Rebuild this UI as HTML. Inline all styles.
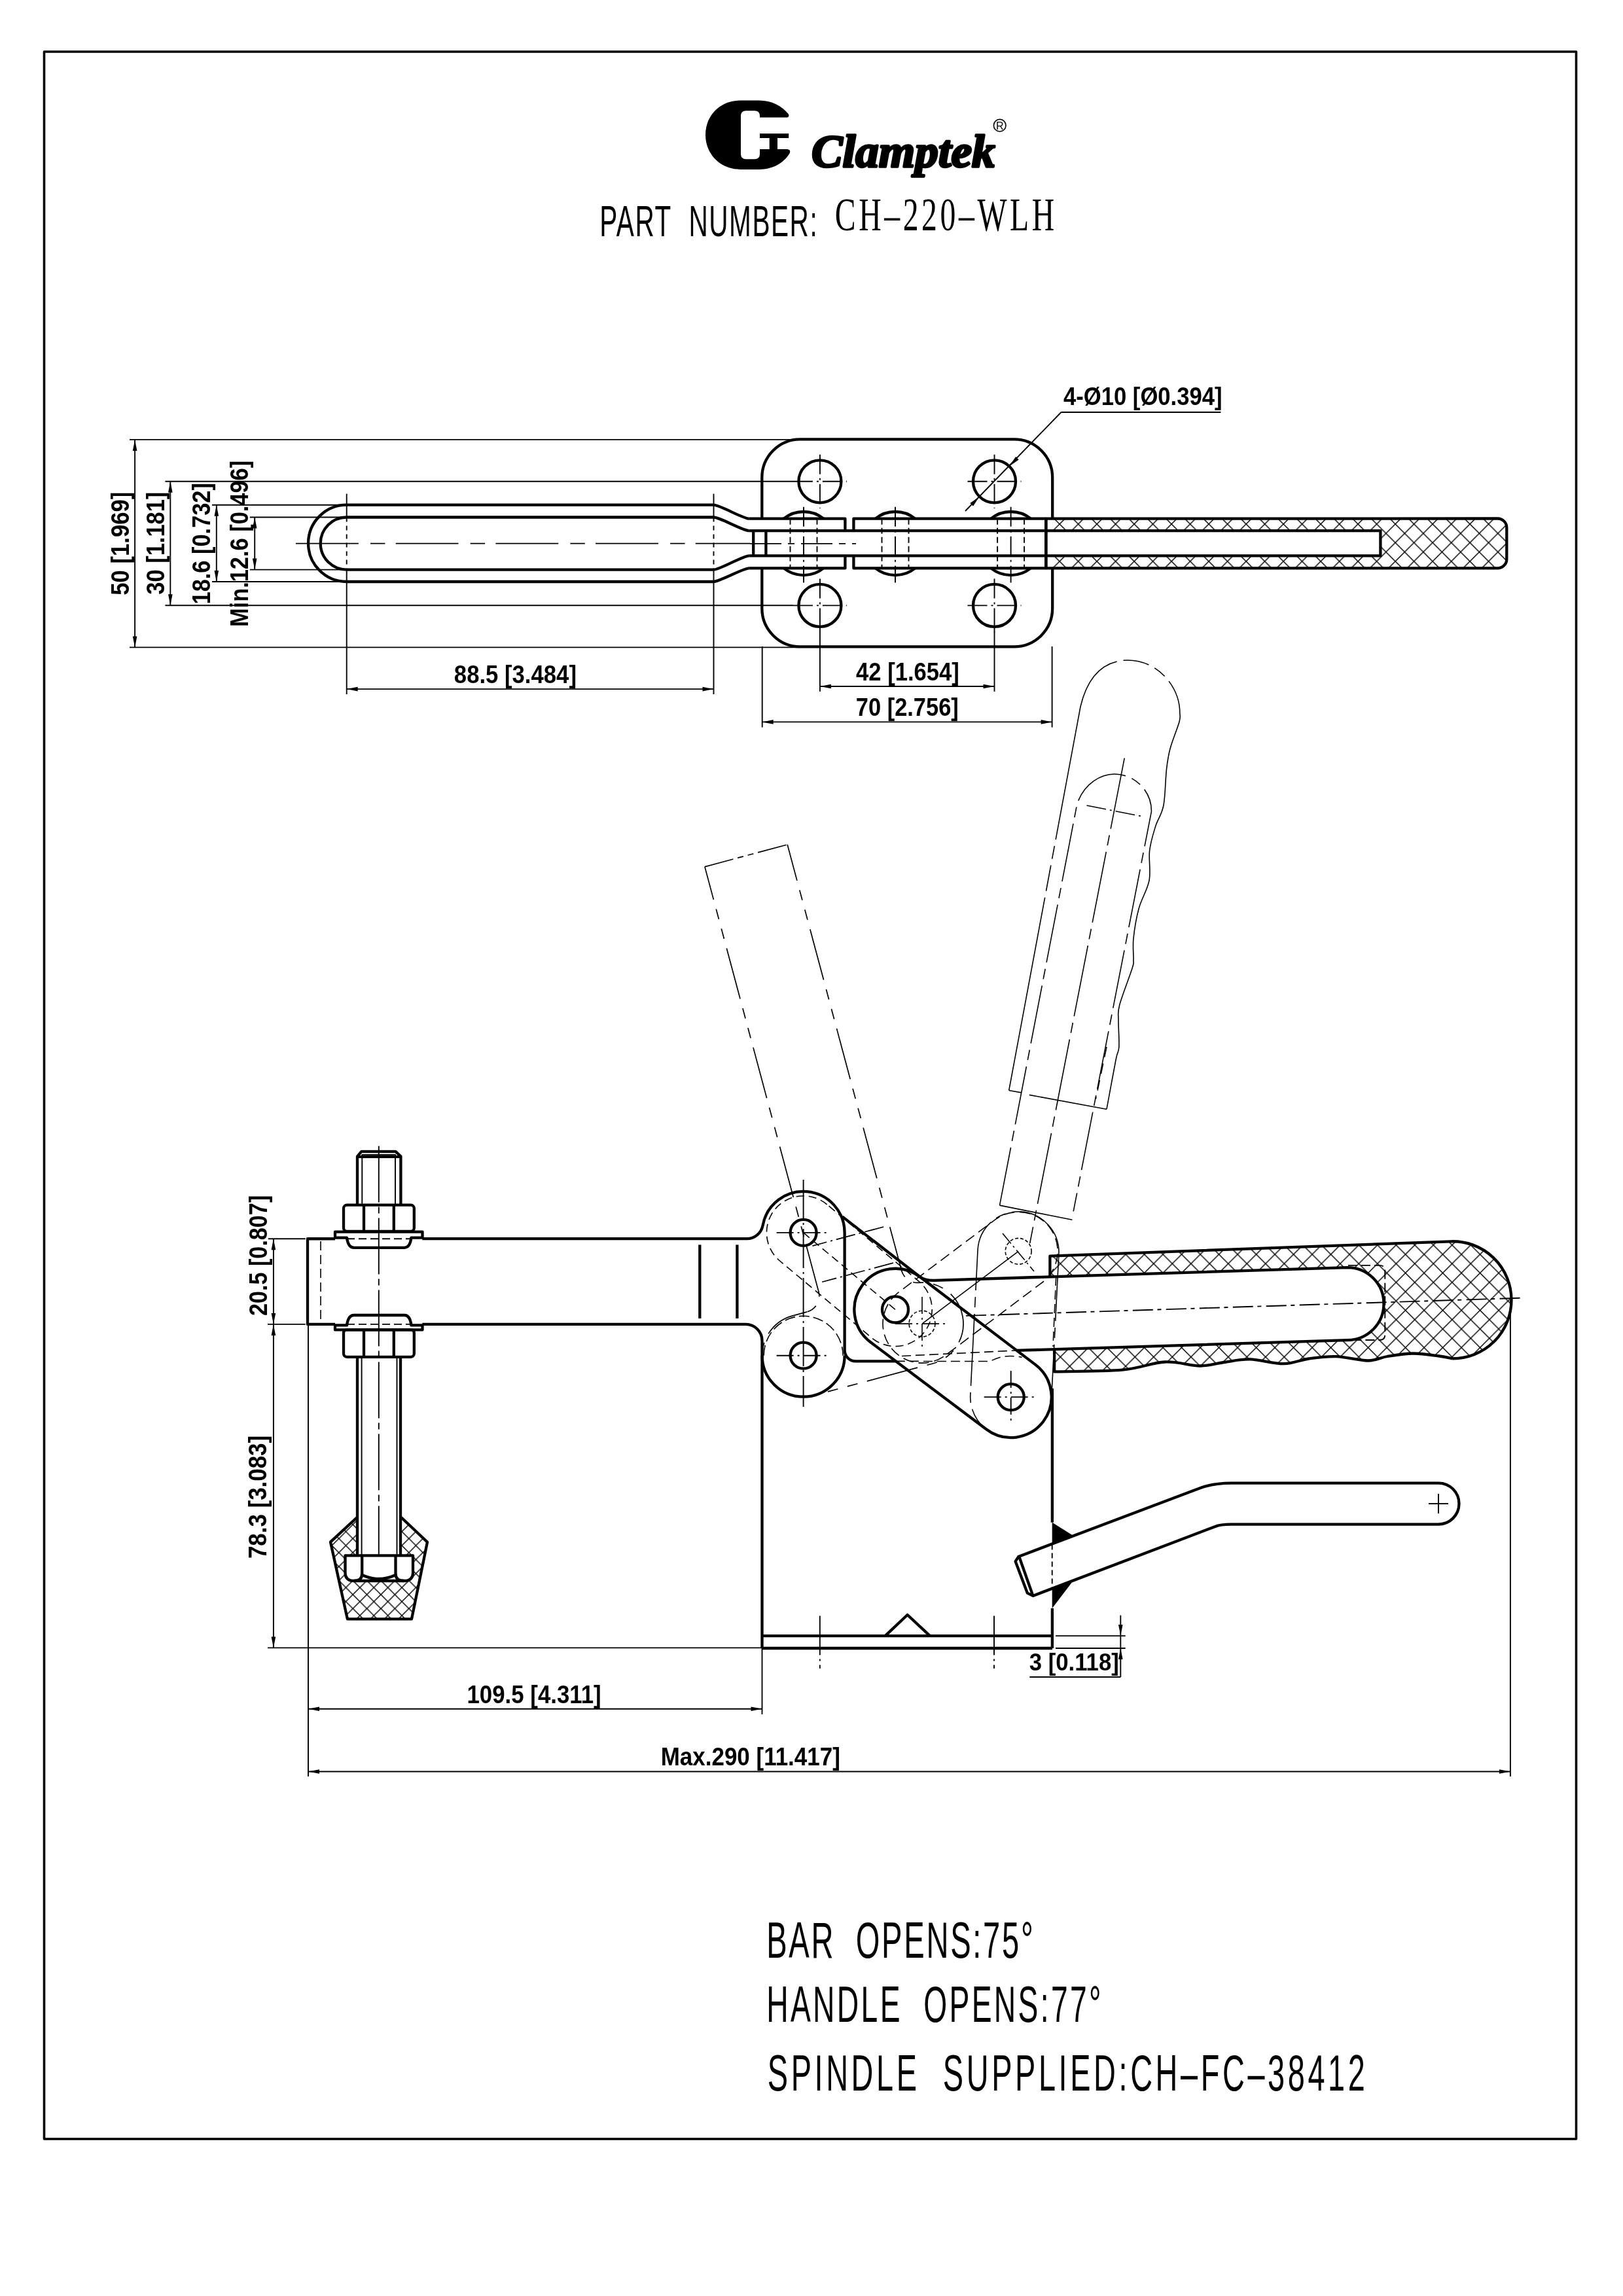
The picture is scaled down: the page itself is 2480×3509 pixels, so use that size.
<!DOCTYPE html><html><head><meta charset="utf-8"><style>html,body{margin:0;padding:0;background:#fff;overflow:hidden}svg{display:block}</style></head><body>
<svg width="2480" height="3509" viewBox="0 0 2480 3509">
<rect width="2480" height="3509" fill="#fff"/>
<g stroke="#000" stroke-linecap="butt" stroke-linejoin="round" fill="none" style="will-change:transform">
<rect x="67.5" y="79" width="2341" height="3190" fill="none" stroke-width="3.6"/>
<path d="M1131,153.4 L1160,153.4 C1179,153.4 1195,162 1204.5,174 Q1207,178 1203,179.6 L1161,179.6 L1161,228 L1203,228 Q1209,229 1206.5,234.5 C1197,250 1180,258.9 1160,258.9 L1131,258.9 C1101,258.9 1078,236 1078,206 C1078,176 1101,153.4 1131,153.4 Z" fill="#000" stroke="none"/>
<path d="M1140,169.3 L1153,169.3 Q1161,169.3 1161,177.3 L1161,235.2 Q1161,243.2 1153,243.2 L1140,243.2 Q1132,243.2 1132,235.2 L1132,177.3 Q1132,169.3 1140,169.3 Z" fill="#fff" stroke="none"/>
<rect x="1161" y="204.1" width="44.2" height="6.9" fill="#000" stroke="none"/>
<rect x="1175.7" y="211" width="12.3" height="17" fill="#000" stroke="none"/>
<text transform="translate(1240.01,255.2) scale(1.0154,1)" font-family='"Liberation Serif", serif' font-weight="bold" font-style="italic" font-size="70.07" stroke="#000" stroke-width="3.4" stroke-linejoin="round" fill="#000">Clamptek</text>
<circle cx="1527.7" cy="191.7" r="9.3" stroke-width="1.6" fill="none"/>
<text x="1527.7" y="198" font-family='"Liberation Sans", sans-serif' font-size="16" text-anchor="middle" stroke="none" fill="#000">R</text>
<text transform="translate(916.26,361.4) scale(0.6000,1)" font-family='"Liberation Sans", sans-serif' font-weight="normal" font-style="normal" font-size="67.54" letter-spacing="2.604" stroke="none" fill="#000">PART  NUMBER:</text>
<text transform="translate(1275.79,351.7) scale(0.6600,1)" font-family='"Liberation Serif", serif' font-weight="normal" font-style="normal" font-size="72.21" letter-spacing="6.998" stroke="none" fill="#000">CH–220–WLH</text>
<text transform="translate(1171.13,2992.3) scale(0.6000,1)" font-family='"Liberation Sans", sans-serif' font-weight="normal" font-style="normal" font-size="78.55" letter-spacing="4.517" stroke="none" fill="#000">BAR  OPENS:75°</text>
<text transform="translate(1171.2,3090.2) scale(0.6000,1)" font-family='"Liberation Sans", sans-serif' font-weight="normal" font-style="normal" font-size="77.10" letter-spacing="5.559" stroke="none" fill="#000">HANDLE  OPENS:77°</text>
<text transform="translate(1172.79,3195.3) scale(0.6000,1)" font-family='"Liberation Sans", sans-serif' font-weight="normal" font-style="normal" font-size="78.12" letter-spacing="7.680" stroke="none" fill="#000">SPINDLE  SUPPLIED:CH–FC–38412</text>
<line x1="198" y1="671.9" x2="1222" y2="671.9" stroke-width="1.9"/>
<line x1="198" y1="989.4" x2="1222" y2="989.4" stroke-width="1.9"/>
<line x1="252.4" y1="735.8" x2="1212" y2="735.8" stroke-width="1.9"/>
<line x1="252.4" y1="925.3" x2="1212" y2="925.3" stroke-width="1.9"/>
<line x1="324" y1="771.7" x2="529.7" y2="771.7" stroke-width="1.9"/>
<line x1="324" y1="889" x2="529.7" y2="889" stroke-width="1.9"/>
<line x1="381.8" y1="790.5" x2="529.7" y2="790.5" stroke-width="1.9"/>
<line x1="381.8" y1="870.6" x2="529.7" y2="870.6" stroke-width="1.9"/>
<line x1="206.1" y1="671.9" x2="206.1" y2="989.4" stroke-width="1.9"/>
<path d="M206.1,671.9 L209.4,688.9 L202.8,688.9 Z" fill="#000" stroke="none"/>
<path d="M206.1,989.4 L202.8,972.4 L209.4,972.4 Z" fill="#000" stroke="none"/>
<line x1="260.3" y1="735.8" x2="260.3" y2="925.3" stroke-width="1.9"/>
<path d="M260.3,735.8 L263.6,752.8 L257,752.8 Z" fill="#000" stroke="none"/>
<path d="M260.3,925.3 L257,908.3 L263.6,908.3 Z" fill="#000" stroke="none"/>
<line x1="330.8" y1="771.7" x2="330.8" y2="889" stroke-width="1.9"/>
<path d="M330.8,771.7 L334.1,788.7 L327.5,788.7 Z" fill="#000" stroke="none"/>
<path d="M330.8,889 L327.5,872 L334.1,872 Z" fill="#000" stroke="none"/>
<line x1="389.2" y1="790.5" x2="389.2" y2="870.6" stroke-width="1.9"/>
<path d="M389.2,790.5 L392.5,807.5 L385.9,807.5 Z" fill="#000" stroke="none"/>
<path d="M389.2,870.6 L385.9,853.6 L392.5,853.6 Z" fill="#000" stroke="none"/>
<text transform="translate(196.8,909.64) rotate(-90) scale(0.8727,1)" font-family='"Liberation Sans", sans-serif' font-weight="bold" font-style="normal" font-size="39.71" stroke="none" fill="#000">50 [1.969]</text>
<text transform="translate(250.9,908.66) rotate(-90) scale(0.8797,1)" font-family='"Liberation Sans", sans-serif' font-weight="bold" font-style="normal" font-size="39.14" stroke="none" fill="#000">30 [1.181]</text>
<text transform="translate(320.9,923.46) rotate(-90) scale(0.8821,1)" font-family='"Liberation Sans", sans-serif' font-weight="bold" font-style="normal" font-size="38.99" stroke="none" fill="#000">18.6 [0.732]</text>
<text transform="translate(379.1,958.04) rotate(-90) scale(0.8924,1)" font-family='"Liberation Sans", sans-serif' font-weight="bold" font-style="normal" font-size="38.55" stroke="none" fill="#000">Min.12.6 [0.496]</text>
<path d="M1090.5,771.7 L529.7,771.7 A58.65,58.65 0 0 0 529.7,889 L1090.5,889 C1100,889 1135,868.4 1144.8,868.4" stroke-width="4.3" fill="none"/>
<path d="M1090.5,790.5 L529.7,790.5 A40.05,40.05 0 0 0 529.7,870.6 L1090.5,870.6 C1100,870.6 1135,849.3 1144.8,849.3" stroke-width="4.3" fill="none"/>
<path d="M1090.5,771.7 C1100,771.7 1135,792.7 1144.8,792.7" stroke-width="4.3" fill="none"/>
<path d="M1090.5,790.5 C1100,790.5 1135,811.1 1144.8,811.1" stroke-width="4.3" fill="none"/>
<line x1="452" y1="830.6" x2="1146" y2="830.6" stroke-width="1.9" stroke-dasharray="95.8,18.2,22.4,16.3"/>
<line x1="1146" y1="830.9" x2="1308" y2="830.9" stroke-width="1.9" stroke-dasharray="48,10,10,10"/>
<line x1="529.7" y1="754.7" x2="529.7" y2="790.5" stroke-width="1.9"/>
<line x1="529.7" y1="790.5" x2="529.7" y2="870.6" stroke-width="1.9" stroke-dasharray="7,6"/>
<line x1="529.7" y1="870.6" x2="529.7" y2="1061" stroke-width="1.9"/>
<line x1="1090.5" y1="754.7" x2="1090.5" y2="790.5" stroke-width="1.9"/>
<line x1="1090.5" y1="790.5" x2="1090.5" y2="870.6" stroke-width="1.9" stroke-dasharray="7,6"/>
<line x1="1090.5" y1="870.6" x2="1090.5" y2="1061" stroke-width="1.9"/>
<line x1="529.7" y1="1053.1" x2="1090.5" y2="1053.1" stroke-width="1.9"/>
<path d="M529.7,1053.1 L546.7,1049.8 L546.7,1056.4 Z" fill="#000" stroke="none"/>
<path d="M1090.5,1053.1 L1073.5,1056.4 L1073.5,1049.8 Z" fill="#000" stroke="none"/>
<text transform="translate(693.86,1043.6) scale(0.8964,1)" font-family='"Liberation Sans", sans-serif' font-weight="bold" font-style="normal" font-size="38.71" stroke="none" fill="#000">88.5 [3.484]</text>
<path d="M1164.3,792.7 L1164.3,729.9 A58.5,58.5 0 0 1 1222.8,671.4 L1549.7,671.4 A58.5,58.5 0 0 1 1608.2,729.9 L1608.2,792.7" stroke-width="4.3" fill="none"/>
<path d="M1164.3,868.4 L1164.3,929.8 A58.5,58.5 0 0 0 1222.8,988.3 L1549.7,988.3 A58.5,58.5 0 0 0 1608.2,929.8 L1608.2,868.4" stroke-width="4.3" fill="none"/>
<circle cx="1252.9" cy="735.8" r="32.5" stroke-width="4.3" fill="none"/>
<line x1="1211.9" y1="735.8" x2="1293.9" y2="735.8" stroke-width="1.9" stroke-dasharray="30,6,3,6"/>
<line x1="1252.9" y1="694.8" x2="1252.9" y2="776.8" stroke-width="1.9" stroke-dasharray="30,6,3,6"/>
<circle cx="1252.9" cy="925.4" r="32.5" stroke-width="4.3" fill="none"/>
<line x1="1211.9" y1="925.4" x2="1293.9" y2="925.4" stroke-width="1.9" stroke-dasharray="30,6,3,6"/>
<line x1="1252.9" y1="884.4" x2="1252.9" y2="966.4" stroke-width="1.9" stroke-dasharray="30,6,3,6"/>
<circle cx="1519.5" cy="735.8" r="32.5" stroke-width="4.3" fill="none"/>
<line x1="1478.5" y1="735.8" x2="1560.5" y2="735.8" stroke-width="1.9" stroke-dasharray="30,6,3,6"/>
<line x1="1519.5" y1="694.8" x2="1519.5" y2="776.8" stroke-width="1.9" stroke-dasharray="30,6,3,6"/>
<circle cx="1519.5" cy="925.4" r="32.5" stroke-width="4.3" fill="none"/>
<line x1="1478.5" y1="925.4" x2="1560.5" y2="925.4" stroke-width="1.9" stroke-dasharray="30,6,3,6"/>
<line x1="1519.5" y1="884.4" x2="1519.5" y2="966.4" stroke-width="1.9" stroke-dasharray="30,6,3,6"/>
<path d="M1144.8,792.7 L1291.4,792.7 L1291.4,811.1" stroke-width="4.3" fill="none"/>
<path d="M1144.8,868.4 L1291.4,868.4 L1291.4,849.3" stroke-width="4.3" fill="none"/>
<path d="M1304.4,811.1 L1304.4,792.7 L1598.3,792.7" stroke-width="4.3" fill="none"/>
<path d="M1304.4,849.3 L1304.4,868.4 L1598.3,868.4" stroke-width="4.3" fill="none"/>
<line x1="1144.8" y1="811.1" x2="2109.4" y2="811.1" stroke-width="4.3"/>
<line x1="1144.8" y1="849.3" x2="2109.4" y2="849.3" stroke-width="4.3"/>
<line x1="1151.2" y1="811.1" x2="1151.2" y2="849.3" stroke-width="4.3"/>
<line x1="1170.4" y1="811.1" x2="1170.4" y2="849.3" stroke-width="4.3"/>
<line x1="2109.4" y1="809.3" x2="2109.4" y2="851.1" stroke-width="4.3"/>
<path d="M1197.61,792.7 A48.5,48.5 0 0 1 1258.39,792.7" stroke-width="4.3" fill="none"/>
<path d="M1197.61,868.4 A48.5,48.5 0 0 0 1258.39,868.4" stroke-width="4.3" fill="none"/>
<line x1="1207.5" y1="792.7" x2="1207.5" y2="868.4" stroke-width="1.9" stroke-dasharray="9,5"/>
<line x1="1248.5" y1="792.7" x2="1248.5" y2="868.4" stroke-width="1.9" stroke-dasharray="9,5"/>
<line x1="1228" y1="774.8" x2="1228" y2="890.6" stroke-width="1.9" stroke-dasharray="30,6,3,6"/>
<path d="M1337.61,792.7 A48.5,48.5 0 0 1 1398.39,792.7" stroke-width="4.3" fill="none"/>
<path d="M1337.61,868.4 A48.5,48.5 0 0 0 1398.39,868.4" stroke-width="4.3" fill="none"/>
<line x1="1347.5" y1="792.7" x2="1347.5" y2="868.4" stroke-width="1.9" stroke-dasharray="9,5"/>
<line x1="1388.5" y1="792.7" x2="1388.5" y2="868.4" stroke-width="1.9" stroke-dasharray="9,5"/>
<line x1="1368" y1="774.8" x2="1368" y2="890.6" stroke-width="1.9" stroke-dasharray="30,6,3,6"/>
<path d="M1514.21,792.7 A48.5,48.5 0 0 1 1574.99,792.7" stroke-width="4.3" fill="none"/>
<path d="M1514.21,868.4 A48.5,48.5 0 0 0 1574.99,868.4" stroke-width="4.3" fill="none"/>
<line x1="1524.1" y1="792.7" x2="1524.1" y2="868.4" stroke-width="1.9" stroke-dasharray="9,5"/>
<line x1="1565.1" y1="792.7" x2="1565.1" y2="868.4" stroke-width="1.9" stroke-dasharray="9,5"/>
<line x1="1544.6" y1="774.8" x2="1544.6" y2="890.6" stroke-width="1.9" stroke-dasharray="30,6,3,6"/>
<defs><pattern id="hatchT" patternUnits="userSpaceOnUse" x="2189.1" y="829.4" width="28.5" height="28.5"><path d="M-14.25,-14.25 L42.75,42.75 M42.75,-14.25 L-14.25,42.75" stroke="#000" stroke-width="1.45" fill="none"/></pattern></defs>
<defs><pattern id="hatchG" patternUnits="userSpaceOnUse" x="2161.8" y="1959.8" width="28.5" height="28.5"><path d="M-14.25,-14.25 L42.75,42.75 M42.75,-14.25 L-14.25,42.75" stroke="#000" stroke-width="1.45" fill="none"/></pattern></defs>
<defs><pattern id="hatchS" patternUnits="userSpaceOnUse" x="539.2" y="2437" width="21.4" height="21.4"><path d="M-10.7,-10.7 L32.1,32.1 M32.1,-10.7 L-10.7,32.1" stroke="#000" stroke-width="1.45" fill="none"/></pattern></defs>
<path d="M1598.3,792.6 L2288.4,792.5 A13.9,13.9 0 0 1 2302.3,806.4 L2302.3,854.4 A13.9,13.9 0 0 1 2288.4,868.3 L1598.3,868.4 Z M2109.4,811.1 L1598.3,811.1 L1598.3,849.3 L2109.4,849.3 Z" stroke-width="1.9" fill="url(#hatchT)" fill-rule="evenodd" stroke="none"/>
<path d="M1598.3,792.6 L2288.4,792.5 A13.9,13.9 0 0 1 2302.3,806.4 L2302.3,854.4 A13.9,13.9 0 0 1 2288.4,868.3 L1598.3,868.4 Z" stroke-width="4.3" fill="none"/>
<line x1="1598.3" y1="792.7" x2="1598.3" y2="868.4" stroke-width="4.3"/>
<line x1="1252.9" y1="960" x2="1252.9" y2="1056.9" stroke-width="1.9"/>
<line x1="1519.5" y1="960" x2="1519.5" y2="1056.9" stroke-width="1.9"/>
<line x1="1252.9" y1="1049" x2="1519.5" y2="1049" stroke-width="1.9"/>
<path d="M1252.9,1049 L1269.9,1045.7 L1269.9,1052.3 Z" fill="#000" stroke="none"/>
<path d="M1519.5,1049 L1502.5,1052.3 L1502.5,1045.7 Z" fill="#000" stroke="none"/>
<text transform="translate(1308.08,1039.5) scale(0.8849,1)" font-family='"Liberation Sans", sans-serif' font-weight="bold" font-style="normal" font-size="39.13" stroke="none" fill="#000">42 [1.654]</text>
<line x1="1164.7" y1="988" x2="1164.7" y2="1111.6" stroke-width="1.9"/>
<line x1="1607.6" y1="988" x2="1607.6" y2="1111.6" stroke-width="1.9"/>
<line x1="1164.7" y1="1103.4" x2="1607.6" y2="1103.4" stroke-width="1.9"/>
<path d="M1164.7,1103.4 L1181.7,1100.1 L1181.7,1106.7 Z" fill="#000" stroke="none"/>
<path d="M1607.6,1103.4 L1590.6,1106.7 L1590.6,1100.1 Z" fill="#000" stroke="none"/>
<text transform="translate(1307.82,1094) scale(0.8967,1)" font-family='"Liberation Sans", sans-serif' font-weight="bold" font-style="normal" font-size="38.41" stroke="none" fill="#000">70 [2.756]</text>
<line x1="1865.4" y1="630" x2="1621.5" y2="630" stroke-width="1.9"/>
<line x1="1621.5" y1="630" x2="1475" y2="781" stroke-width="1.9"/>
<path d="M1542.5,712.5 L1551.96,698 L1556.7,702.59 Z" fill="#000" stroke="none"/>
<path d="M1496.5,759.1 L1487.04,773.6 L1482.3,769.01 Z" fill="#000" stroke="none"/>
<text transform="translate(1624.88,619.4) scale(0.8796,1)" font-family='"Liberation Sans", sans-serif' font-weight="bold" font-style="normal" font-size="39.42" stroke="none" fill="#000">4-Ø10 [Ø0.394]</text>
<line x1="470" y1="1893.2" x2="512" y2="1893.2" stroke-width="4.3"/>
<path d="M645.3,1893.2 L1141.2,1893.2 A25.0,25.0 0 0 0 1165.62,1872.64 A63.0,63.0 0 0 1 1290.6,1883.9 L1290.6,2063.4 A17,17 0 0 0 1307.6,2080.4 L1368.88,2080.4" stroke-width="4.3" fill="none"/>
<path d="M512,1893.2 L470,1893.2 L470,2023.9 L512,2023.9 M645.3,2023.9 L1139.5,2023.9 A25,25 0 0 1 1164.5,2048.9 L1164.5,2519" stroke-width="4.3" fill="none"/>
<path d="M1164.6,2071.7 A63.0,63.0 0 0 0 1290.6,2071.7" stroke-width="4.3" fill="none"/>
<line x1="1069.3" y1="1902.4" x2="1069.3" y2="2015" stroke-width="4.3"/>
<line x1="1126.4" y1="1902.4" x2="1126.4" y2="2015" stroke-width="4.3"/>
<path d="M1405.77,1951.48 A62.6,62.6 0 0 0 1318.08,1963.63 A62.6,62.6 0 0 0 1330.23,2051.32 L1507.29,2184.54 A62.0,62.0 0 0 0 1594.14,2172.51 A62.0,62.0 0 0 0 1582.11,2085.66 Z" stroke-width="4.3" fill="none"/>
<line x1="1287.1" y1="1859.4" x2="1405.77" y2="1951.48" stroke-width="4.3"/>
<path d="M1405.77,1951.48 Q1413.4,1957.3 1428,1956.87 L2059,1937.06 A55.5,55.5 0 0 1 2059,2048.06 L1553.56,2063.93" stroke-width="4.3" fill="none"/>
<line x1="1607.9" y1="2122" x2="1607.9" y2="2326.7" stroke-width="4.3"/>
<line x1="1607.9" y1="2457.9" x2="1607.9" y2="2519" stroke-width="4.3"/>
<line x1="1164.5" y1="2500.1" x2="1607.9" y2="2500.1" stroke-width="4.3"/>
<path d="M1164.5,2519 L1607.9,2519" stroke-width="4.3" fill="none"/>
<path d="M1352.6,2500.1 L1386.6,2468 L1421,2500.1" stroke-width="4.3" fill="none"/>
<line x1="1252.8" y1="2469.5" x2="1252.8" y2="2550" stroke-width="1.9" stroke-dasharray="60,6,3,6"/>
<line x1="1519" y1="2469.5" x2="1519" y2="2550" stroke-width="1.9" stroke-dasharray="60,6,3,6"/>
<circle cx="1227.6" cy="1883.9" r="20" stroke-width="4.3" fill="none"/>
<circle cx="1227.6" cy="2071.7" r="20" stroke-width="4.3" fill="none"/>
<circle cx="1368" cy="2001.4" r="20" stroke-width="4.3" fill="none"/>
<circle cx="1544.7" cy="2135.1" r="20" stroke-width="4.3" fill="none"/>
<line x1="1186.6" y1="1883.9" x2="1268.6" y2="1883.9" stroke-width="1.9" stroke-dasharray="26,6,3,6"/>
<line x1="1186.6" y1="2071.7" x2="1268.6" y2="2071.7" stroke-width="1.9" stroke-dasharray="26,6,3,6"/>
<line x1="1503.7" y1="2135.1" x2="1585.7" y2="2135.1" stroke-width="1.9" stroke-dasharray="26,6,3,6"/>
<line x1="1227.6" y1="1803" x2="1227.6" y2="2150" stroke-width="1.9" stroke-dasharray="60,6,3,6"/>
<line x1="1544.7" y1="2095.1" x2="1544.7" y2="2175.1" stroke-width="1.9" stroke-dasharray="26,6,3,6"/>
<clipPath id="gripclip"><path d="M1604.4,1919.6 L2216.8,1897.3 A89.5,89.5 0 0 1 2309.5,1986.8 A89.5,89.5 0 0 1 2220,2076.3  C2216.5,2075.67 2209.13,2073.8 2199,2072.5 C2188.87,2071.2 2172.37,2068.42 2159.2,2068.5 C2146.03,2068.58 2131.53,2071.17 2120,2073 C2108.47,2074.83 2103.02,2079.47 2090,2079.5 C2076.98,2079.53 2056.9,2073.7 2041.9,2073.2 C2026.9,2072.7 2013.42,2074.67 2000,2076.5 C1986.58,2078.33 1976.42,2084.05 1961.4,2084.2 C1946.38,2084.35 1925.13,2077.77 1909.9,2077.4 C1894.67,2077.03 1882.65,2080.32 1870,2082 C1857.35,2083.68 1849.03,2087.58 1834,2087.5 C1818.97,2087.42 1799.68,2080.47 1779.8,2081.5 C1759.92,2082.53 1742.82,2091.22 1714.7,2093.7 C1686.58,2096.18 1628.37,2095.95 1611.1,2096.4 L1611.1,2062.12 L1604.4,1951.33 Z M1604.4,1951.33 L2059,1937.06 A55.5,55.5 0 0 1 2059,2048.06 L1611.1,2062.12 Z" clip-rule="evenodd"/></clipPath>
<rect x="1590" y="1880" width="730" height="230" fill="url(#hatchG)" stroke="none" clip-path="url(#gripclip)"/>
<path d="M1604.4,1951.33 L1604.4,1919.6 L2216.8,1897.3 A89.5,89.5 0 0 1 2309.5,1986.8 A89.5,89.5 0 0 1 2220,2076.3" stroke-width="4.3" fill="none"/>
<path d="M2220,2076.3 C2216.5,2075.67 2209.13,2073.8 2199,2072.5 C2188.87,2071.2 2172.37,2068.42 2159.2,2068.5 C2146.03,2068.58 2131.53,2071.17 2120,2073 C2108.47,2074.83 2103.02,2079.47 2090,2079.5 C2076.98,2079.53 2056.9,2073.7 2041.9,2073.2 C2026.9,2072.7 2013.42,2074.67 2000,2076.5 C1986.58,2078.33 1976.42,2084.05 1961.4,2084.2 C1946.38,2084.35 1925.13,2077.77 1909.9,2077.4 C1894.67,2077.03 1882.65,2080.32 1870,2082 C1857.35,2083.68 1849.03,2087.58 1834,2087.5 C1818.97,2087.42 1799.68,2080.47 1779.8,2081.5 C1759.92,2082.53 1742.82,2091.22 1714.7,2093.7 C1686.58,2096.18 1628.37,2095.95 1611.1,2096.4 L1611.1,2062.12" stroke-width="4.3" fill="none"/>
<path d="M2060,1933.9 L2108,1933.9 Q2116.3,1933.9 2116.3,1942 L2116.3,2040 Q2116.3,2048 2108,2048 L2060,2048" stroke-width="1.9" fill="none" stroke-dasharray="14,6"/>
<line x1="1476" y1="2010.87" x2="2324.7" y2="1983.7" stroke-width="1.9" stroke-dasharray="31,6.6,6,7.4"/>
<line x1="2307.9" y1="1987" x2="2307.9" y2="2715" stroke-width="1.9"/>
<path d="M1556.4,2378.9 L1835,2273.8 Q1854.3,2266.6 1881.6,2266.6 L2198,2266.6 A31.5,31.5 0 0 1 2198,2329.6 L1881.6,2329.6 Q1864.5,2329.6 1857,2333 L1578.4,2438.9 L1569.8,2434.6 L1551.6,2386.3 Z" stroke-width="4.3" fill="none"/>
<line x1="1557.7" y1="2380.2" x2="1578.4" y2="2438.9" stroke-width="4.3"/>
<line x1="2183" y1="2298.1" x2="2213" y2="2298.1" stroke-width="1.9"/>
<line x1="2198" y1="2283.1" x2="2198" y2="2313.1" stroke-width="1.9"/>
<path d="M1607.7,2326.7 L1639.2,2346.6 L1607.7,2360.4 Z" fill="#000" stroke="none"/>
<path d="M1607.7,2427.7 L1640.1,2415.6 L1607.7,2457.9 Z" fill="#000" stroke="none"/>
<line x1="1607.7" y1="2360.4" x2="1607.7" y2="2427.7" stroke-width="1.9" stroke-dasharray="8,5"/>
<path d="M546,1841.7 L546,1767.3 L552.3,1759.9 L604.5,1759.9 L612.4,1767.3 L612.4,1841.7" stroke-width="4.3" fill="none"/>
<line x1="546" y1="1767.8" x2="612.4" y2="1767.8" stroke-width="4.3"/>
<path d="M553.3,1841.7 L553.3,1764.8 L604,1764.8 L604,1841.7" stroke-width="1.9" fill="none"/>
<rect x="525" y="1841.7" width="107.8" height="40.1" rx="5" stroke-width="4.3" fill="none"/>
<line x1="556" y1="1841.7" x2="556" y2="1881.8" stroke-width="4.3"/>
<line x1="601.8" y1="1841.7" x2="601.8" y2="1881.8" stroke-width="4.3"/>
<path d="M512,1893.2 L512,1882.6 L645.5,1882.6 L645.5,1893.2 M512,1891.6 L530,1891.6 Q532,1906.8 541,1906.8 L618,1906.8 Q626.5,1906.8 628.4,1891.6 L645.5,1891.6" stroke-width="4.3" fill="none"/>
<line x1="530" y1="1893.2" x2="628.4" y2="1893.2" stroke-width="1.9" stroke-dasharray="12,6"/>
<path d="M512,2023.9 L512,2032.4 L645.5,2032.4 L645.5,2023.9 M512,2025.4 L530,2025.4 Q532,2010 541,2010 L618,2010 Q626.5,2010 628.4,2025.4 L645.5,2025.4" stroke-width="4.3" fill="none"/>
<line x1="530" y1="2023.9" x2="628.4" y2="2023.9" stroke-width="1.9" stroke-dasharray="12,6"/>
<rect x="525" y="2032.4" width="107.8" height="41.4" rx="5" stroke-width="4.3" fill="none"/>
<line x1="556" y1="2032.4" x2="556" y2="2073.8" stroke-width="4.3"/>
<line x1="601.8" y1="2032.4" x2="601.8" y2="2073.8" stroke-width="4.3"/>
<line x1="546" y1="2073.8" x2="546" y2="2377.4" stroke-width="4.3"/>
<line x1="612" y1="2073.8" x2="612" y2="2377.4" stroke-width="4.3"/>
<line x1="552.6" y1="2073.8" x2="552.6" y2="2377.4" stroke-width="1.9"/>
<line x1="606.5" y1="2073.8" x2="606.5" y2="2377.4" stroke-width="1.9"/>
<line x1="578.8" y1="1751.6" x2="578.8" y2="2377" stroke-width="1.9" stroke-dasharray="86,7,10,7"/>
<clipPath id="tipclip"><path d="M545.6,2319 L505,2356.7 L530.9,2474.4 L629,2474.4 L653,2356.7 L613,2319 Z M546,2319 L546,2377.4 L527.5,2377.4 L527.5,2416.2 L631,2416.2 L631,2377.4 L612,2377.4 L612,2319 Z" clip-rule="evenodd"/></clipPath>
<rect x="500" y="2310" width="160" height="170" fill="url(#hatchS)" stroke="none" clip-path="url(#tipclip)"/>
<path d="M545.6,2319 L505,2356.7 L530.9,2474.4 L629,2474.4 L653,2356.7 L613,2319" stroke-width="4.3" fill="none"/>
<path d="M527.5,2377.4 L631,2377.4 L631,2403 Q631,2416 618,2416 L540.5,2416 Q527.5,2416 527.5,2403 Z" stroke-width="4.3" fill="none"/>
<path d="M553.2,2377.4 L553.2,2405 Q553.2,2416 541,2416 M604.5,2377.4 L604.5,2405 Q604.5,2416 617,2416" stroke-width="4.3" fill="none"/>
<path d="M553.2,2407 Q578.8,2419 604.5,2407" stroke-width="4.3" fill="none"/>
<line x1="409.8" y1="1893.2" x2="466.7" y2="1893.2" stroke-width="1.9"/>
<line x1="409" y1="2023.9" x2="466.7" y2="2023.9" stroke-width="1.9"/>
<line x1="417.9" y1="1893.2" x2="417.9" y2="2023.9" stroke-width="1.9"/>
<path d="M417.9,1893.2 L421.2,1910.2 L414.6,1910.2 Z" fill="#000" stroke="none"/>
<path d="M417.9,2023.9 L414.6,2006.9 L421.2,2006.9 Z" fill="#000" stroke="none"/>
<text transform="translate(408.4,2011) rotate(-90) scale(0.8892,1)" font-family='"Liberation Sans", sans-serif' font-weight="bold" font-style="normal" font-size="38.43" stroke="none" fill="#000">20.5 [0.807]</text>
<line x1="417.9" y1="2023.9" x2="417.9" y2="2518.4" stroke-width="1.9"/>
<path d="M417.9,2023.9 L421.2,2040.9 L414.6,2040.9 Z" fill="#000" stroke="none"/>
<path d="M417.9,2518.4 L414.6,2501.4 L421.2,2501.4 Z" fill="#000" stroke="none"/>
<line x1="409" y1="2518.4" x2="1164.5" y2="2518.4" stroke-width="1.9"/>
<text transform="translate(407.4,2382.1) rotate(-90) scale(0.8957,1)" font-family='"Liberation Sans", sans-serif' font-weight="bold" font-style="normal" font-size="38.99" stroke="none" fill="#000">78.3 [3.083]</text>
<line x1="471" y1="2023.9" x2="471" y2="2715" stroke-width="1.9"/>
<line x1="1164.5" y1="2519" x2="1164.5" y2="2620" stroke-width="1.9"/>
<line x1="471" y1="2611.8" x2="1164.5" y2="2611.8" stroke-width="1.9"/>
<path d="M471,2611.8 L488,2608.5 L488,2615.1 Z" fill="#000" stroke="none"/>
<path d="M1164.5,2611.8 L1147.5,2615.1 L1147.5,2608.5 Z" fill="#000" stroke="none"/>
<text transform="translate(713.51,2602.5) scale(0.9062,1)" font-family='"Liberation Sans", sans-serif' font-weight="bold" font-style="normal" font-size="38.43" stroke="none" fill="#000">109.5 [4.311]</text>
<line x1="471" y1="2707.5" x2="2307.9" y2="2707.5" stroke-width="1.9"/>
<path d="M471,2707.5 L488,2704.2 L488,2710.8 Z" fill="#000" stroke="none"/>
<path d="M2307.9,2707.5 L2290.9,2710.8 L2290.9,2704.2 Z" fill="#000" stroke="none"/>
<text transform="translate(1009.73,2697.7) scale(0.9143,1)" font-family='"Liberation Sans", sans-serif' font-weight="bold" font-style="normal" font-size="38.26" stroke="none" fill="#000">Max.290 [11.417]</text>
<line x1="1613" y1="2500.1" x2="1719.7" y2="2500.1" stroke-width="1.9"/>
<line x1="1613" y1="2519" x2="1719.7" y2="2519" stroke-width="1.9"/>
<line x1="1712.3" y1="2468.7" x2="1712.3" y2="2563" stroke-width="1.9"/>
<path d="M1712.3,2500.1 L1709,2483.1 L1715.6,2483.1 Z" fill="#000" stroke="none"/>
<path d="M1712.3,2519 L1715.6,2536 L1709,2536 Z" fill="#000" stroke="none"/>
<line x1="1573.3" y1="2563" x2="1712.3" y2="2563" stroke-width="1.9"/>
<text transform="translate(1572.73,2553.4) scale(0.9277,1)" font-family='"Liberation Sans", sans-serif' font-weight="bold" font-style="normal" font-size="37.43" stroke="none" fill="#000">3 [0.118]</text>
<g transform="rotate(75 1227.6 2071.7)">
<path d="M467,2023.9 L467,1893.2" stroke-width="1.7" fill="none" stroke-dasharray="45,7,9,7,9,7,45"/>
<path d="M467,1893.2 L1141.2,1893.2 A25.0,25.0 0 0 0 1165.62,1872.64 A63.0,63.0 0 0 1 1290.6,1883.9 L1290.6,2071.7 A63.0,63.0 0 0 1 1164.6,2071.7 L1164.5,2048.9" stroke-width="1.7" fill="none" stroke-dasharray="80,15,16,15,16,15" stroke-dashoffset="23"/>
<path d="M467,2023.9 L1139.5,2023.9 A25,25 0 0 1 1164.5,2048.9" stroke-width="1.7" fill="none" stroke-dasharray="80,15,16,15,16,15" stroke-dashoffset="28"/>
<line x1="1069.3" y1="1902.4" x2="1069.3" y2="2015" stroke-width="1.7" stroke-dasharray="30,6,3,6"/>
<line x1="1126.4" y1="1902.4" x2="1126.4" y2="2015" stroke-width="1.7" stroke-dasharray="30,6,3,6"/>
</g>
<path d="M1263.67,1840.8 A56.2,56.2 0 0 0 1184.5,1847.83 A56.2,56.2 0 0 0 1191.53,1927 L1331.93,2044.5 A56.2,56.2 0 0 0 1411.1,2037.47 A56.2,56.2 0 0 0 1404.07,1958.3 Z" stroke-width="1.6" fill="none" stroke-dasharray="12,7"/>
<line x1="1227.6" y1="1883.9" x2="1368" y2="2001.4" stroke-width="1.6" stroke-dasharray="12,7"/>
<path d="M1372.92,1975.16 A60,60 0 0 0 1361.06,2059.18 A60,60 0 0 0 1445.08,2071.04 L1592.28,1960.24 A60,60 0 0 0 1604.14,1876.22 A60,60 0 0 0 1520.12,1864.36 Z" stroke-width="1.6" fill="none" stroke-dasharray="16,8"/>
<line x1="1409" y1="2023.1" x2="1556.2" y2="1912.3" stroke-width="1.6"/>
<circle cx="1409" cy="2023.1" r="19.9" stroke-width="1.6" fill="none" stroke-dasharray="5,3"/>
<circle cx="1556.2" cy="1912.3" r="19.9" stroke-width="1.6" fill="none" stroke-dasharray="5,3"/>
<line x1="1368" y1="2023.1" x2="1450" y2="2023.1" stroke-width="1.6" stroke-dasharray="26,6,3,6"/>
<line x1="1409" y1="1982.1" x2="1409" y2="2064.1" stroke-width="1.6" stroke-dasharray="26,6,3,6"/>
<line x1="1532" y1="1885" x2="1580" y2="1943" stroke-width="1.6" stroke-dasharray="20,5,3,5"/>
<g transform="rotate(55.8 1544.7 2135.1)">
<path d="M1405.41,1951.96 A62,62 0 0 0 1318.56,1963.99 A62,62 0 0 0 1330.59,2050.84 L1507.29,2184.54 A62,62 0 0 0 1594.14,2172.51 A62,62 0 0 0 1582.11,2085.66 Z" stroke-width="1.6" fill="none" stroke-dasharray="110,10,16,10"/>
</g>
<path d="M1541.7,1666.5 L1651,1080 C1665,1020 1700,1009 1723,1009 C1770,1009 1803,1050 1802.8,1090" stroke-width="1.6" fill="none" stroke-dasharray="300,10,40,10,20,10"/>
<path d="M1802.8,1090 C1802.65,1092.25 1804.37,1094.47 1801.9,1103.5 C1799.43,1112.53 1791.23,1132.18 1788,1144.2 C1784.77,1156.22 1784.18,1161.13 1782.5,1175.6 C1780.82,1190.07 1780.68,1216.52 1777.9,1231 C1775.12,1245.48 1769.35,1251 1765.8,1262.5 C1762.25,1274 1758.23,1286.17 1756.6,1300 C1754.97,1313.83 1758.72,1330.83 1756,1345.5 C1753.28,1360.17 1744.3,1373.25 1740.3,1388 C1736.3,1402.75 1733.38,1420.83 1732,1434 C1730.62,1447.17 1732.33,1459.33 1732,1467 C1731.67,1474.67 1733.55,1468.5 1730,1480 C1726.45,1491.5 1714.2,1522.67 1710.7,1536 C1707.2,1549.33 1709.15,1549.33 1709,1560 C1708.85,1570.67 1710.47,1590 1709.8,1600 C1709.13,1610 1708.13,1604.13 1705,1620 C1701.87,1635.87 1693.33,1682.67 1691,1695.2" stroke-width="1.6" fill="none"/>
<path d="M1560.7,1669.9 L1541.7,1666.5" stroke-width="1.6" fill="none"/>
<line x1="1572.8" y1="1673.4" x2="1691" y2="1695.2" stroke-width="1.6"/>
<path d="M1527.5,1842.1 L1645.7,1229.2 C1655,1200 1680,1183 1703,1183 C1735,1183 1760,1210 1759.4,1240.3 L1640.2,1851.4" stroke-width="1.6" fill="none" stroke-dasharray="90,10,16,10"/>
<line x1="1527.5" y1="1842.1" x2="1638.4" y2="1864.3" stroke-width="1.6"/>
<line x1="1718.2" y1="1158.6" x2="1573.7" y2="1900" stroke-width="1.6" stroke-dasharray="110,10,16,10"/>
<line x1="1660.5" y1="1231" x2="1745.5" y2="1247.7" stroke-width="1.6" stroke-dasharray="30,6,3,6"/>
<line x1="1691" y1="1600" x2="1674.4" y2="1679.5" stroke-width="1.6" stroke-dasharray="16,10"/>
<line x1="1613.7" y1="1951" x2="1609" y2="2058" stroke-width="1.6" stroke-dasharray="14,7"/>
<path d="M1378,2072.44 L1553.56,2063.93" stroke-width="1.6" fill="none" stroke-dasharray="14,7"/>
<path d="M1368.9,2080.4 L1512.8,2080.5 C1522,2076 1530,2072.5 1544,2072.5 C1552,2072.5 1557,2073.5 1561.5,2074.4" stroke-width="1.6" fill="none" stroke-dasharray="14,7"/>
<line x1="490" y1="1897" x2="490" y2="2020" stroke-width="1.6" stroke-dasharray="14,7"/>
<path d="M1167.1,2071.7 A60.5,60.5 0 0 1 1288.1,2071.7" stroke-width="1.6" fill="none" stroke-dasharray="16,6"/>
</g></svg></body></html>
